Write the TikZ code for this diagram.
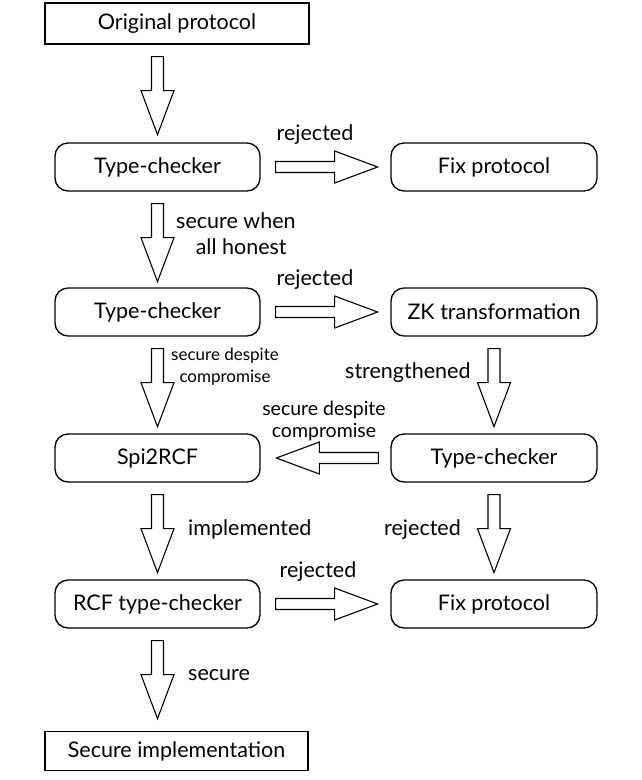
\documentclass[tikz,border=0pt]{standalone}
\usepackage{fontspec}
\setmainfont{Lato}
\usetikzlibrary{calc}
\tikzset{
  box/.style={draw, line width=1.3pt, minimum height=48pt, inner sep=0pt,
    font=\fontsize{21.5}{26}\selectfont},
  stepbox/.style={box, rounded corners=13pt},
  endbox/.style={box, minimum height=40pt},
  fatarrow/.style={draw, line width=1.1pt, line join=miter},
  lbl/.style={inner sep=0pt, font=\fontsize{21.5}{26}\selectfont, align=center},
  smalllbl/.style={inner sep=0pt, font=\fontsize{17}{22}\selectfont, align=center},
  midlbl/.style={inner sep=0pt, font=\fontsize{19.5}{22}\selectfont, align=center},
}
% thick hollow arrows: start point is the middle of the tail
\newcommand\fatdown[1]{\path[fatarrow] #1 ++(-6,0) -- ++(0,34) -- ++(-10.5,0)
  -- ++(16.5,44) -- ++(16.5,-44) -- ++(-10.5,0) -- ++(0,-34) -- cycle;}
\newcommand\fatright[1]{\path[fatarrow] #1 ++(0,-5.5) -- ++(59,0) -- ++(0,-10.5)
  -- ++(43,16) -- ++(-43,16) -- ++(0,-10.5) -- ++(-59,0) -- cycle;}
\newcommand\fatleft[1]{\path[fatarrow] #1 ++(0,-5.5) -- ++(-59,0) -- ++(0,-10.5)
  -- ++(-43,16) -- ++(43,16) -- ++(0,-10.5) -- ++(59,0) -- cycle;}
\begin{document}
\begin{tikzpicture}[x=1pt, y=-1pt]
\useasboundingbox (0,0) rectangle (642,780);

% boxes
\node[endbox, minimum width=264pt, minimum height=41pt] (orig) at (177,23.5) {Original protocol};
\node[stepbox, minimum width=205pt] (tc1) at (157.5,167) {Type-checker};
\node[stepbox, minimum width=206pt] (fix1) at (494,167) {Fix protocol};
\node[stepbox, minimum width=205pt] (tc2) at (157.5,312) {Type-checker};
\node[stepbox, minimum width=206pt] (zk) at (494,312) {ZK transformation};
\node[stepbox, minimum width=205pt] (spi) at (157.5,458) {Spi2RCF};
\node[stepbox, minimum width=206pt] (tc3) at (494,458) {Type-checker};
\node[stepbox, minimum width=205pt] (rcf) at (157.5,604) {RCF type-checker};
\node[stepbox, minimum width=206pt] (fix2) at (494,604) {Fix protocol};
\node[endbox, minimum width=263pt, minimum height=39pt] (impl) at (176.5,751) {Secure implementation};

% connectors
\coordinate (a1) at ($(orig.south -| tc1.north)+(0,12)$);
\fatdown{(a1)}
\fatdown{($(tc1.south)+(0,12)$)}
\fatdown{($(tc2.south)+(0,12)$)}
\fatdown{($(spi.south)+(0,12)$)}
\fatdown{($(rcf.south)+(0,12)$)}
\fatdown{($(zk.south)+(0,12)$)}
\fatdown{($(tc3.south)+(0,12)$)}
\fatright{($(tc1.east)+(15,0)$)}
\fatright{($(tc2.east)+(15,0)$)}
\fatright{($(rcf.east)+(15,0)$)}
\fatleft{($(tc3.west)+(-12,0)$)}

% labels (multi-line labels are placed by the baseline of their last line)
\node[lbl, anchor=base] (l1) at (315,140) {rejected};
\node[lbl, anchor=base] (l2) at (315,285) {rejected};
\node[lbl, anchor=base] (l3) at (318,577) {rejected};
\node[lbl, anchor=base west] (l4) at (176,254) {secure when\\\hphantom{x}all honest};
\node[smalllbl, anchor=base] (l5) at (225,382) {secure despite\\compromise};
\node[midlbl, anchor=base] (l6) at (324,437) {secure despite\\compromise};
\node[lbl, anchor=base west] (l7) at (345,378) {strengthened};
\node[lbl, anchor=base west] (l8) at (188,535) {implemented};
\node[lbl, anchor=base east] (l9) at (461,535) {rejected};
\node[lbl, anchor=base west] (l10) at (188,680) {secure};
\end{tikzpicture}
\end{document}
